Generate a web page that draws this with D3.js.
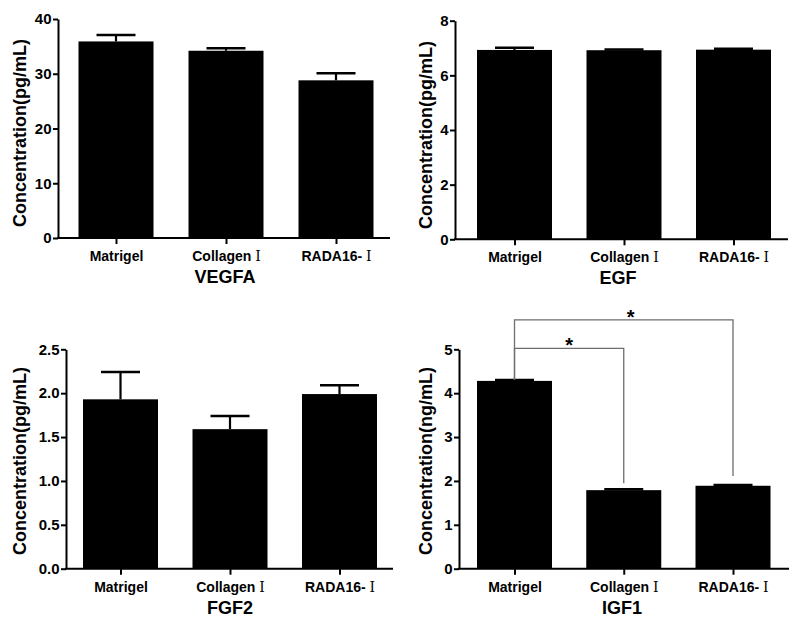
<!DOCTYPE html>
<html>
<head>
<meta charset="utf-8">
<script src="https://cdn.jsdelivr.net/npm/d3@7/dist/d3.min.js"></script>
<style>
  html, body { margin: 0; padding: 0; background: #fff; }
  svg { display: block; }
  text { font-family: "Liberation Sans", Arial, Helvetica, sans-serif; font-weight: bold; fill: #000; }
</style>
</head>
<body>
<svg id="chart" width="800" height="627"></svg>
<script>
// ---------------- data ----------------
const categories = ["Matrigel", "Collagen Ⅰ", "RADA16- Ⅰ"];
const panelNames = ["VEGFA", "EGF", "FGF2", "IGF1"];
const yLabels = ["Concentration(pg/mL)", "Concentration(pg/mL)", "Concentration(pg/mL)", "Concentration(ng/mL)"];

const vegfaMean = [35.9, 34.2, 28.8];
const vegfaErr  = [1.2, 0.45, 1.3];
const egfMean   = [6.93, 6.92, 6.94];
const egfErr    = [0.08, 0.03, 0.03];
const fgf2Mean  = [1.93, 1.59, 1.99];
const fgf2Err   = [0.31, 0.15, 0.10];
const igf1Mean  = [4.28, 1.79, 1.89];
const igf1Err   = [0.02, 0.02, 0.02];

const yMax   = [40, 8, 2.5, 5];
const yTicks = [[0, 10, 20, 30, 40], [0, 2, 4, 6, 8], [0, 0.5, 1.0, 1.5, 2.0, 2.5], [0, 1, 2, 3, 4, 5]];
const yFormats = ["d", "d", ".1f", "d"];

// significance brackets on IGF1 panel: [fromIndex, toIndex, bracket level, drop level, label]
const sigFrom  = [0, 0];
const sigTo    = [1, 2];
const sigLevel = [5.02, 5.67];
const sigDrop  = [1.95, 2.11];
const sigLabel = ["*", "*"];

// ---------------- layout ----------------
const layout = [
  { ax: 58,  top: 19,    bot: 238,   right: 390, c0: 116,   c2: 336,   labX: 26,  labY: 133, titleX: 225 },
  { ax: 455, top: 20.7,  bot: 239.3, right: 788, c0: 514.5, c2: 733.5, labX: 432, labY: 135, titleX: 618 },
  { ax: 66,  top: 349.3, bot: 568.7, right: 393, c0: 120.5, c2: 339.5, labX: 26,  labY: 461, titleX: 230 },
  { ax: 459, top: 349.3, bot: 568.7, right: 789, c0: 514.5, c2: 733,   labX: 432, labY: 461, titleX: 622 }
];
const means = [vegfaMean, egfMean, fgf2Mean, igf1Mean];
const errs  = [vegfaErr, egfErr, fgf2Err, igf1Err];

const barW = 75, capW = 39;
const svg = d3.select("#chart");
svg.append("rect").attr("width", 800).attr("height", 627).attr("fill", "#fff");

function catLabel(sel) {
  sel.each(function(d) {
    const t = d3.select(this);
    t.text(null);
    const parts = d.split("Ⅰ");
    t.append("tspan").text(parts[0]);
    if (parts.length > 1) {
      t.append("tspan").text("Ⅰ")
        .style("font-family", "'DejaVu Serif', 'Liberation Serif', serif")
        .style("font-weight", "normal");
    }
  });
}

const scales = [];
layout.forEach((L, p) => {
  const g = svg.append("g");
  const x = d3.scalePoint().domain(categories).range([L.c0, L.c2]);
  const y = d3.scaleLinear().domain([0, yMax[p]]).range([L.bot, L.top]);
  scales.push({ x, y });

  // bars
  g.selectAll("rect.bar").data(categories).join("rect")
    .attr("class", "bar")
    .attr("x", d => x(d) - barW / 2)
    .attr("width", barW)
    .attr("y", (d, i) => y(means[p][i]))
    .attr("height", (d, i) => L.bot - y(means[p][i]))
    .attr("fill", "#000");

  // error bars
  g.selectAll("line.stem").data(categories).join("line")
    .attr("x1", d => x(d)).attr("x2", d => x(d))
    .attr("y1", (d, i) => y(means[p][i]))
    .attr("y2", (d, i) => y(means[p][i] + errs[p][i]))
    .attr("stroke", "#000").attr("stroke-width", 2.2);
  g.selectAll("line.cap").data(categories).join("line")
    .attr("x1", d => x(d) - capW / 2).attr("x2", d => x(d) + capW / 2)
    .attr("y1", (d, i) => y(means[p][i] + errs[p][i]))
    .attr("y2", (d, i) => y(means[p][i] + errs[p][i]))
    .attr("stroke", "#000").attr("stroke-width", 2.5);

  // y axis
  const yAxis = d3.axisLeft(y).tickValues(yTicks[p]).tickFormat(d3.format(yFormats[p]))
    .tickSize(5).tickSizeOuter(0).tickPadding(1.5);
  const ya = g.append("g").attr("transform", `translate(${L.ax},0)`).call(yAxis);
  ya.select(".domain").attr("stroke", "#000").attr("stroke-width", 2);
  ya.selectAll(".tick line").attr("stroke", "#000").attr("stroke-width", 2);
  ya.selectAll(".tick text").style("font-size", "15px").style("font-family", "'Liberation Sans', Arial, sans-serif")
    .style("font-weight", "bold").attr("fill", "#000");

  // x axis
  const xAxis = d3.axisBottom(x).tickSize(6).tickSizeOuter(0).tickPadding(7);
  const xa = g.append("g").attr("transform", `translate(0,${L.bot})`).call(xAxis);
  xa.select(".domain").remove();
  xa.selectAll(".tick line").attr("stroke", "#000").attr("stroke-width", 2);
  xa.selectAll(".tick text").style("font-size", "14px").style("font-family", "'Liberation Sans', Arial, sans-serif")
    .style("font-weight", "bold").attr("fill", "#000").attr("dy", "0.71em").call(catLabel);
  g.append("line").attr("x1", L.ax - 1).attr("x2", L.right).attr("y1", L.bot).attr("y2", L.bot)
    .attr("stroke", "#000").attr("stroke-width", 2);

  // y label
  g.append("text")
    .attr("transform", `translate(${L.labX},${L.labY}) rotate(-90)`)
    .attr("text-anchor", "middle")
    .style("font-size", "18px")
    .text(yLabels[p]);

  // title
  g.append("text")
    .attr("x", L.titleX).attr("y", L.bot + 45)
    .attr("text-anchor", "middle")
    .style("font-size", "18px")
    .text(panelNames[p]);
});

// significance brackets on IGF1
const s4 = scales[3];
const gs = svg.append("g");
const starOffset = [0, 7];
sigFrom.forEach((f, k) => {
  const xa = s4.x(categories[f]), xb = s4.x(categories[sigTo[k]]);
  const yl = s4.y(sigLevel[k]);
  const path = d3.path();
  path.moveTo(xa, s4.y(igf1Mean[f] + igf1Err[f]));
  path.lineTo(xa, yl);
  path.lineTo(xb, yl);
  path.lineTo(xb, s4.y(sigDrop[k]));
  gs.append("path").attr("d", path.toString()).attr("fill", "none")
    .attr("stroke", "#6e6e6e").attr("stroke-width", 1.3);
  gs.append("text")
    .attr("x", (xa + xb) / 2 + starOffset[k]).attr("y", yl + 4)
    .attr("text-anchor", "middle")
    .style("font-size", "20px")
    .text(sigLabel[k]);
});
</script>
</body>
</html>
